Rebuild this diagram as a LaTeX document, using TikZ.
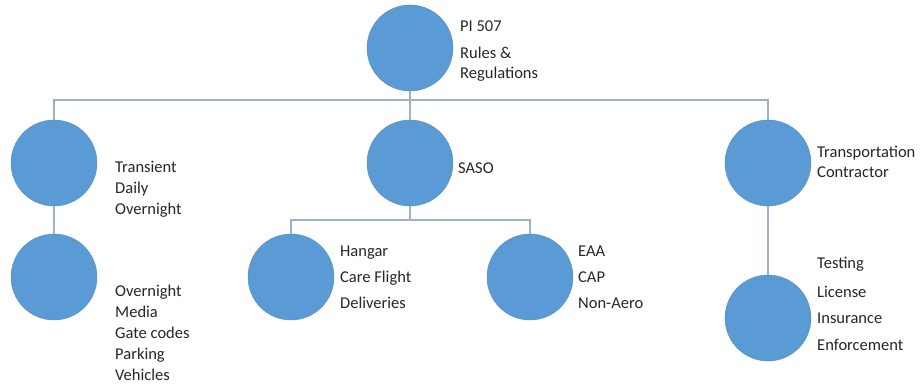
\documentclass[tikz,border=0pt]{standalone}
\usepackage{fontspec}
\setmainfont{Carlito}
\definecolor{circ}{HTML}{5B9BD5}
\definecolor{conn}{HTML}{9CB0C8}
\begin{document}
\begin{tikzpicture}[x=1pt,y=1pt,
  ball/.style={circle,fill=circ,draw=circ!90!black,line width=0.4pt,minimum size=86pt,inner sep=0pt},
  lbl/.style={anchor=mid west,inner sep=0pt,font=\fontsize{16.5}{19}\selectfont,text=black!85},
  conline/.style={draw=conn,line width=1.5pt}]
\useasboundingbox (0,0) rectangle (922,385);
% circles
\node[ball] (top) at (410,337) {};
\node[ball] (l1) at (54,222) {};
\node[ball] (saso) at (410,222) {};
\node[ball] (r1) at (768,222) {};
\node[ball] (l2) at (54,108) {};
\node[ball] (hangar) at (291,108) {};
\node[ball] (eaa) at (530,108) {};
\node[ball] (r2) at (768,67) {};
% coordinates for bars
\coordinate (bar) at (410,285);
\coordinate (sbar) at (410,165);
% connectors
\path[conline] (l1.north) |- (bar) -| (r1.north);
\path[conline] (top.south) -- (bar);
\path[conline] (bar) -- (saso.north);
\path[conline] (l1.south) -- (l2.north);
\path[conline] (r1.south) -- (r2.north);
\path[conline] (hangar.north) |- (sbar) -| (eaa.north);
\path[conline] (saso.south) -- (sbar);
% texts
\node[lbl] (ta) at (460,356) {PI 507};
\node[lbl] (tb) at (460,329) {Rules \&};
\node[lbl] (tc) at (460,309) {Regulations};
\node[lbl] (la) at (115,215) {Transient};
\node[lbl] (lb) at (115,194) {Daily};
\node[lbl] (lc) at (115,173) {Overnight};
\node[lbl] (ma) at (115,91) {Overnight};
\node[lbl] (mb) at (115,70) {Media};
\node[lbl] (mc) at (115,49) {Gate codes};
\node[lbl] (md) at (115,28) {Parking};
\node[lbl] (me) at (115,7) {Vehicles};
\node[lbl] (sa) at (458,214) {SASO};
\node[lbl] (ha) at (340,131) {Hangar};
\node[lbl] (hb) at (340,105) {Care Flight};
\node[lbl] (hc) at (340,79) {Deliveries};
\node[lbl] (ea) at (578,131) {EAA};
\node[lbl] (eb) at (578,105) {CAP};
\node[lbl] (ec) at (578,79) {Non-Aero};
\node[lbl] (ra) at (817,230) {Transportation};
\node[lbl] (rb) at (817,210) {Contractor};
\node[lbl] (qa) at (817,119) {Testing};
\node[lbl] (qb) at (817,90) {License};
\node[lbl] (qc) at (817,64) {Insurance};
\node[lbl] (qd) at (817,37) {Enforcement};
\end{tikzpicture}
\end{document}
